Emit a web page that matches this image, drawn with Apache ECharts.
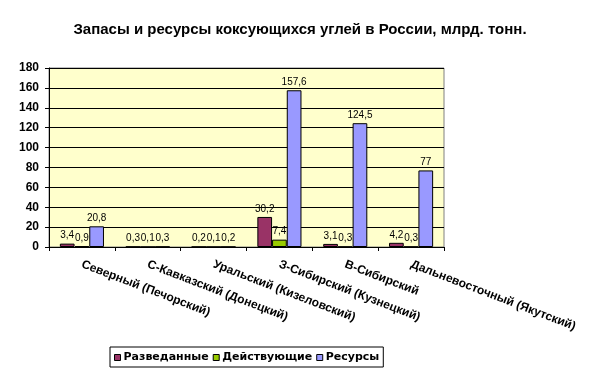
<!DOCTYPE html>
<html><head><meta charset="utf-8">
<script src="https://cdn.jsdelivr.net/npm/echarts@6/dist/echarts.min.js"></script>
<style>html,body{margin:0;padding:0;background:#fff}#c{width:600px;height:379px}</style>
</head><body><div id="c"></div>
<script>
var categories = ['Северный (Печорский)', 'С-Кавказский (Донецкий)', 'Уральский (Кизеловский)', 'З-Сибирский (Кузнецкий)', 'В-Сибирский', 'Дальневосточный (Якутский)'];
var razvedannye = [3.4, 0.3, 0.2, 30.2, 3.1, 4.2];
var deystvuyushchie = [0.9, 0.1, 0.1, 7.4, 0.3, 0.3];
var resursy = [20.8, 0.3, 0.2, 157.6, 124.5, 77];
var yTicks = {min: 0, max: 180, interval: 20};

var FF = 'Liberation Sans, Arial, sans-serif';
var chart = echarts.init(document.getElementById('c'), null, {renderer: 'canvas'});
function lbl() {
  return {show: true, position: 'top', distance: 3, color: '#000', fontSize: 10, fontFamily: FF,
    formatter: function (p) { return String(p.value).replace('.', ','); }};
}
function ser(name, data, color) {
  return {name: name, type: 'bar', data: data, barGap: '0%', barCategoryGap: '33%',
    itemStyle: {color: color, borderColor: '#000', borderWidth: 1},
    label: lbl(), animation: false};
}
chart.setOption({
  animation: false,
  backgroundColor: '#fff',
  title: {text: 'Запасы и ресурсы коксующихся углей в России, млрд. тонн.', left: 'center', top: 17,
    textStyle: {fontSize: 15, fontWeight: 'bold', color: '#000', fontFamily: FF}},
  grid: {left: 49, right: 156, top: 68, bottom: 132, show: true, backgroundColor: '#FFFFCC', borderColor: '#808080', borderWidth: 1},
  legend: {top: 347, left: 110, icon: 'rect', itemWidth: 6, itemHeight: 6, itemGap: 4,
    borderColor: '#000', borderWidth: 1, padding: [5, 4, 4, 4], borderRadius: 0,
    itemStyle: {borderColor: '#000', borderWidth: 1},
    textStyle: {fontSize: 11, fontWeight: 'bold', color: '#000', fontFamily: 'DejaVu Sans, Verdana, sans-serif', padding: [0, 0, 0, -2]},
    data: ['Разведанные', 'Действующие', 'Ресурсы']},
  xAxis: {type: 'category', data: categories,
    axisLine: {lineStyle: {color: '#000'}},
    axisTick: {show: true, alignWithLabel: false, length: 4, lineStyle: {color: '#000'}},
    axisLabel: {rotate: -21, interval: 0, margin: 17, fontSize: 12, fontWeight: 'bold', color: '#000', fontFamily: FF}},
  yAxis: {type: 'value', min: yTicks.min, max: yTicks.max, interval: yTicks.interval,
    axisLine: {show: true, lineStyle: {color: '#000'}},
    axisTick: {show: true, length: 4, lineStyle: {color: '#000'}},
    splitLine: {show: true, lineStyle: {color: '#000', width: 1}},
    axisLabel: {margin: 10, fontSize: 12, fontWeight: 'bold', color: '#000', fontFamily: FF}},
  series: [
    ser('Разведанные', razvedannye, '#993366'),
    ser('Действующие', deystvuyushchie, '#99CC00'),
    ser('Ресурсы', resursy, '#9999FF')
  ]
});
</script></body></html>
